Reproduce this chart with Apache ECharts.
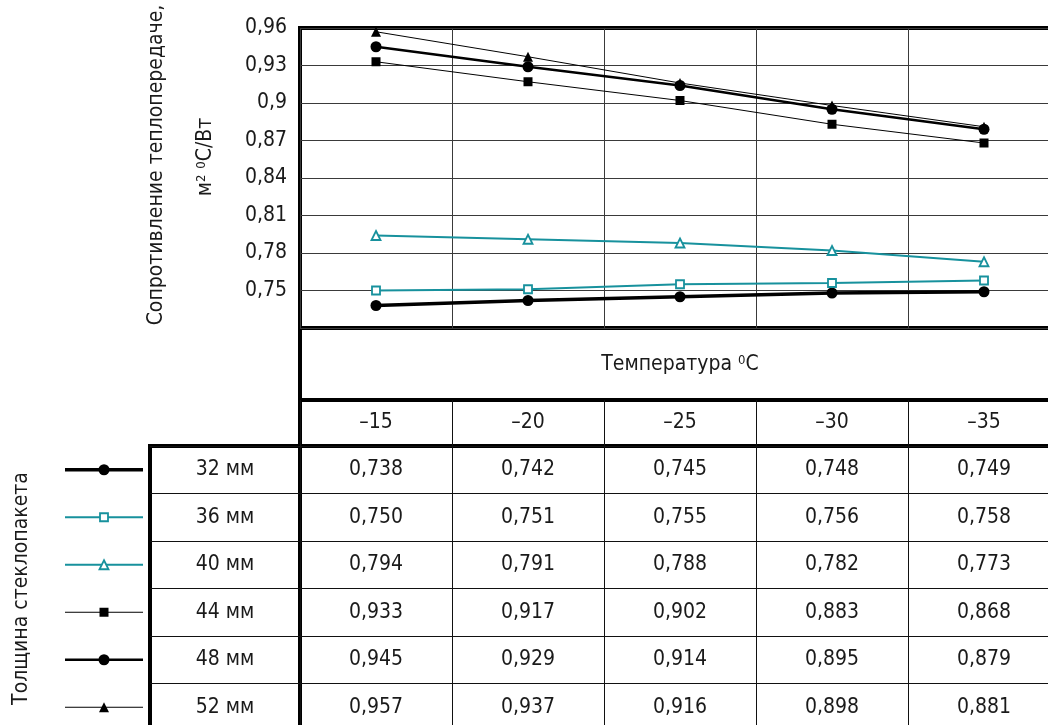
<!DOCTYPE html>
<html><head><meta charset="utf-8">
<script src="https://cdn.jsdelivr.net/npm/echarts@6/dist/echarts.min.js"></script>
<style>html,body{margin:0;padding:0;background:#fff;overflow:hidden}#c{width:1064px;height:736px}</style>
</head><body><div id="c"></div>
<script>
// ---- data ----
const temps = ['–15', '–20', '–25', '–30', '–35'];
const thicknesses = ['32 мм', '36 мм', '40 мм', '44 мм', '48 мм', '52 мм'];
const r32 = [0.738, 0.742, 0.745, 0.748, 0.749];
const r36 = [0.750, 0.751, 0.755, 0.756, 0.758];
const r40 = [0.794, 0.791, 0.788, 0.782, 0.773];
const r44 = [0.933, 0.917, 0.902, 0.883, 0.868];
const r48 = [0.945, 0.929, 0.914, 0.895, 0.879];
const r52 = [0.957, 0.937, 0.916, 0.898, 0.881];
const yMin = 0.72, yMax = 0.96, yStep = 0.03;
const yTitle = 'Сопротивление теплопередаче,';
const yUnit = 'м{s|2} {s|0}С/Вт';
const xTitle = 'Температура {s|0}C';
const legendTitle = 'Толщина стеклопакета';
const rows = [r32, r36, r40, r44, r48, r52];

// ---- styles ----
const FONT = '"Liberation Sans Narrow","DejaVu Sans Condensed",sans-serif';
const FS = 21;
const TXT = '#1a1a1a';
const TEAL = '#17919d';
const styles = [
  {color: '#000', width: 3.6, symbol: 'circle', size: 11, fill: '#000'},
  {color: TEAL, width: 2, symbol: 'rect', size: 8, fill: '#fff'},
  {color: TEAL, width: 2, symbol: 'triangle', size: 9, fill: '#fff'},
  {color: '#000', width: 1, symbol: 'rect', size: 9, fill: '#000'},
  {color: '#000', width: 2.6, symbol: 'circle', size: 11, fill: '#000'},
  {color: '#000', width: 1, symbol: 'triangle', size: 10, fill: '#000'}
];
const fmt3 = v => v.toFixed(3).replace('.', ',');
const fmtTick = v => String(parseFloat(v.toFixed(2))).replace('.', ',');

const chart = echarts.init(document.getElementById('c'), null, {renderer: 'canvas'});
const border = {show: true, borderColor: '#000', borderWidth: 4, backgroundColor: 'transparent', outerBoundsMode: 'none', containLabel: false};
const thinPlot = {show: true, lineStyle: {color: '#3a3a3a', width: 1}};
const thin = {show: true, lineStyle: {color: '#111', width: 1}};
const noAxis = {axisLine: {show: false}, axisTick: {show: false}, axisLabel: {show: false}};
const supRich = {s: {fontSize: 13, fontFamily: FONT, color: TXT, verticalAlign: 'top'}};

const grids = [
  Object.assign({left: 300, top: 28, width: 760, height: 300}, border),   // plot
  Object.assign({left: 300, top: 328, width: 760, height: 72}, border),   // "Температура" row
  Object.assign({left: 300, top: 400, width: 760, height: 46}, border),   // temperatures row
  Object.assign({left: 150, top: 446, width: 150, height: 285}, border),  // thickness column
  Object.assign({left: 300, top: 446, width: 760, height: 285}, border),  // values
  {left: 65, top: 446, width: 78, height: 285, show: false, outerBoundsMode: 'none', containLabel: false} // legend samples
];

const xAxes = [
  Object.assign({gridIndex: 0, type: 'category', data: temps, boundaryGap: true, splitLine: thinPlot,
    name: xTitle, nameLocation: 'middle', nameGap: 26,
    nameTextStyle: {fontFamily: FONT, fontSize: FS, color: TXT, rich: supRich}}, noAxis),
  Object.assign({gridIndex: 1, type: 'category', data: ['h']}, noAxis),
  Object.assign({gridIndex: 2, type: 'category', data: temps, splitLine: thin}, noAxis),
  Object.assign({gridIndex: 3, type: 'category', data: ['c']}, noAxis),
  Object.assign({gridIndex: 4, type: 'category', data: temps, splitLine: thin}, noAxis),
  Object.assign({gridIndex: 5, type: 'value', min: 0, max: 2, splitLine: {show: false}}, noAxis)
];
const yAxes = [
  {gridIndex: 0, type: 'value', position: 'left', min: yMin, max: yMax, interval: yStep,
    axisLine: {show: false}, axisTick: {show: false}, splitLine: thinPlot,
    axisLabel: {margin: 13, fontFamily: FONT, fontSize: FS, color: TXT,
      formatter: v => (Math.abs(v - yMin) < 1e-9 ? '' : fmtTick(v))},
    name: yTitle, nameLocation: 'middle', nameRotate: 90, nameGap: 133,
    nameTextStyle: {fontFamily: FONT, fontSize: FS, color: TXT, padding: [0, 0, 0, 26]}},
  Object.assign({gridIndex: 1, type: 'category', data: ['h']}, noAxis),
  Object.assign({gridIndex: 2, type: 'category', data: ['t']}, noAxis),
  Object.assign({gridIndex: 3, type: 'category', data: thicknesses, inverse: true, splitLine: thin}, noAxis),
  Object.assign({gridIndex: 4, type: 'category', data: thicknesses, inverse: true, splitLine: thin}, noAxis),
  Object.assign({gridIndex: 5, type: 'category', data: thicknesses, inverse: true, splitLine: {show: false},
    name: legendTitle, nameLocation: 'middle', nameRotate: 90, nameGap: 33,
    nameTextStyle: {fontFamily: FONT, fontSize: FS, color: TXT}}, noAxis),
  Object.assign({gridIndex: 0, type: 'value', position: 'left', offset: 0, min: yMin, max: yMax, interval: yStep,
    splitLine: {show: false},
    name: yUnit, nameLocation: 'middle', nameRotate: 90, nameGap: 84,
    nameTextStyle: {fontFamily: FONT, fontSize: FS, color: TXT, rich: supRich, padding: [0, 0, 0, 42]}}, noAxis)
];

const series = [];
rows.forEach((vals, i) => {
  const s = styles[i];
  const base = {
    type: 'line', symbol: s.symbol, symbolSize: s.size, showSymbol: true,
    lineStyle: {color: s.color, width: s.width},
    itemStyle: {color: s.fill, borderColor: s.color, borderWidth: s.fill === '#fff' ? 1.8 : 0, opacity: 1},
    emphasis: {disabled: true}, silent: true, z: 5 + i
  };
  series.push(Object.assign({}, base, {name: thicknesses[i], xAxisIndex: 0, yAxisIndex: 0, data: vals}));
  series.push(Object.assign({}, base, {xAxisIndex: 5, yAxisIndex: 5,
    data: [{value: [0, thicknesses[i]], symbol: 'none'}, {value: [1, thicknesses[i]]}, {value: [2, thicknesses[i]], symbol: 'none'}]}));
});
const cellLabel = {show: true, position: 'inside', fontFamily: FONT, fontSize: FS, color: TXT, opacity: 1};
const cellItem = {color: 'rgba(0,0,0,0)', opacity: 1};
series.push({type: 'scatter', xAxisIndex: 2, yAxisIndex: 2, symbolSize: 1, itemStyle: cellItem, silent: true,
  data: temps.map((t, i) => [i, 0, t]), label: Object.assign({formatter: p => p.data[2]}, cellLabel)});
series.push({type: 'scatter', xAxisIndex: 3, yAxisIndex: 3, symbolSize: 1, itemStyle: cellItem, silent: true,
  data: thicknesses.map((t, i) => [0, i, t]), label: Object.assign({formatter: p => p.data[2]}, cellLabel)});
const cells = [];
rows.forEach((vals, r) => vals.forEach((v, c) => cells.push([c, r, v])));
series.push({type: 'scatter', xAxisIndex: 4, yAxisIndex: 4, symbolSize: 1, itemStyle: cellItem, silent: true,
  data: cells, label: Object.assign({formatter: p => fmt3(p.data[2])}, cellLabel)});

chart.setOption({
  animation: false,
  backgroundColor: '#fff',
  textStyle: {fontFamily: FONT},
  grid: grids, xAxis: xAxes, yAxis: yAxes, series: series
});
</script></body></html>
